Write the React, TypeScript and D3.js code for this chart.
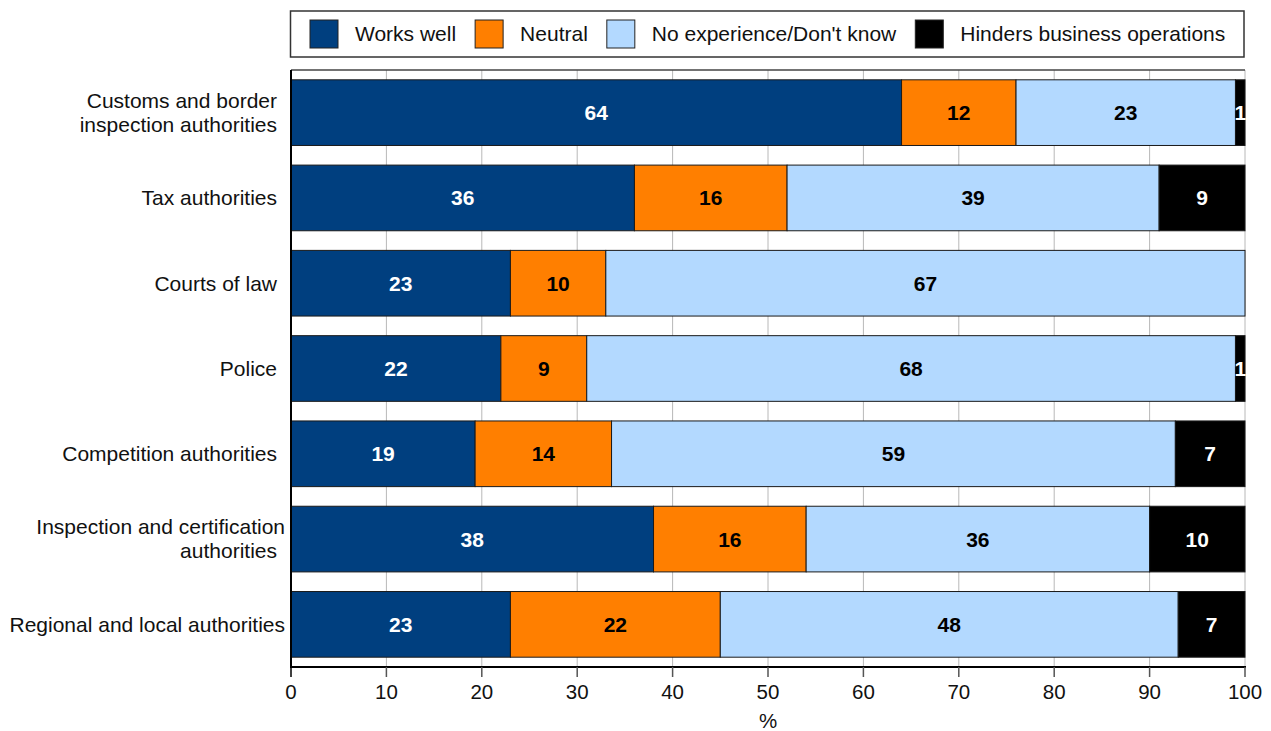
import React from "react";
import * as d3 from "d3";

// Survey shares (%) per authority, one array per response series
const categories: string[][] = [
  ["Customs and border", "inspection authorities"],
  ["Tax authorities"],
  ["Courts of law"],
  ["Police"],
  ["Competition authorities"],
  ["Inspection and certification", "authorities"],
  ["Regional and local authorities"],
];
const worksWell = [64, 36, 23, 22, 19.3, 38, 23];
const neutral = [12, 16, 10, 9, 14.3, 16, 22];
const noExperience = [23, 39, 67, 68, 59.1, 36, 48];
const hinders = [1, 9, 0, 1, 7.3, 10, 7];

const seriesNames = ["Works well", "Neutral", "No experience/Don't know", "Hinders business operations"];
const seriesColors = ["#003F7F", "#FF7F00", "#B3D9FF", "#000000"];
const labelColors = ["#FFFFFF", "#000000", "#000000", "#FFFFFF"];
const xTicks = [0, 10, 20, 30, 40, 50, 60, 70, 80, 90, 100];

const W = 1271;
const H = 731;
const FONT = "'Liberation Sans', Arial, Helvetica, sans-serif";

function measure(text: string, size: number, weight = "normal"): number {
  const c = document.createElement("canvas").getContext("2d");
  if (!c) return text.length * size * 0.5;
  c.font = `${weight} ${size}px ${FONT}`;
  return c.measureText(text).width;
}

export default function App() {
  const margin = { left: 291, right: W - 1245, top: 70, bottom: H - 667 };
  const x = d3.scaleLinear().domain([0, 100]).range([margin.left, W - margin.right]);
  const keys = categories.map((c) => c.join(" "));
  const y = d3
    .scaleBand<string>()
    .domain(keys)
    .range([margin.top, H - margin.bottom])
    .paddingInner(0.23)
    .paddingOuter(0.115);

  const rows = keys.map((k, i) => ({
    key: k,
    values: [worksWell[i], neutral[i], noExperience[i], hinders[i]],
  }));
  const stack = d3.stack<any, number>().keys([0, 1, 2, 3]).value((d, k) => d.values[k]);
  const layers = stack(rows);
  const fmt = d3.format(".0f");

  // legend layout: swatch, gap, text, gap
  const legendItems: { name: string; sx: number; tx: number }[] = [];
  let cursor = 310;
  seriesNames.forEach((name) => {
    legendItems.push({ name, sx: cursor, tx: cursor + 45 });
    cursor = cursor + 45 + measure(name, 21) + 19;
  });

  const [x0, x1] = x.range();
  const [y0, y1] = y.range();

  return (
    <svg
      width={W}
      height={H}
      style={{ position: "absolute", left: 0, top: 0, background: "#fff" }}
      fontFamily={FONT}
    >
      {/* legend */}
      <rect x={290.5} y={11} width={953.5} height={46} fill="#fff" stroke="#333" strokeWidth={1.5} />
      {legendItems.map((it, i) => (
        <g key={it.name}>
          <rect x={it.sx} y={20} width={28} height={28} fill={seriesColors[i]} stroke="#222" strokeWidth={1} />
          <text x={it.tx} y={34} dy="0.35em" fontSize={21} fill="#111">
            {it.name}
          </text>
        </g>
      ))}

      {/* grid */}
      {xTicks.map((t) => (
        <line key={"g" + t} x1={x(t)} x2={x(t)} y1={y0} y2={y1} stroke="#b8b8b8" strokeWidth={1} />
      ))}
      <line x1={x0} x2={x1} y1={y0} y2={y0} stroke="#444" strokeWidth={1.5} />

      {/* bars */}
      {layers.map((layer, si) => (
        <g key={"s" + si}>
          {layer.map((d, ri) => {
            const v = rows[ri].values[si];
            if (!v) return null;
            const bx = x(d[0]);
            const bw = x(d[1]) - x(d[0]);
            const by = y(rows[ri].key)!;
            const bh = y.bandwidth();
            return (
              <g key={ri}>
                <rect x={bx} y={by} width={bw} height={bh} fill={seriesColors[si]} stroke="#1a1a1a" strokeWidth={1} />
                <text
                  x={bx + bw / 2}
                  y={by + bh / 2}
                  dy="0.36em"
                  textAnchor="middle"
                  fontSize={21}
                  fontWeight="bold"
                  fill={labelColors[si]}
                >
                  {fmt(v)}
                </text>
              </g>
            );
          })}
        </g>
      ))}

      {/* category labels; very long lines run a little closer to the axis */}
      {categories.map((lines, i) => {
        const cy = y(keys[i])! + y.bandwidth() / 2;
        const lh = 24;
        const widest = Math.max(...lines.map((ln) => measure(ln, 21)));
        const ax = widest > 240 ? 285 : 277;
        return (
          <text key={"c" + i} textAnchor="end" fontSize={21} fill="#111">
            {lines.map((ln, j) => (
              <tspan
                key={j}
                x={lines.length > 1 && measure(ln, 21) < 240 ? 277 : ax}
                y={cy + (j - (lines.length - 1) / 2) * lh}
                dy="0.35em"
              >
                {ln}
              </tspan>
            ))}
          </text>
        );
      })}

      {/* axes */}
      <line x1={x0} x2={x0} y1={y0} y2={y1} stroke="#000" strokeWidth={2} />
      <line x1={x0 - 1} x2={x1 + 1} y1={y1} y2={y1} stroke="#000" strokeWidth={2} />
      {xTicks.map((t) => (
        <g key={"t" + t}>
          <line x1={x(t)} x2={x(t)} y1={y1} y2={y1 + 10} stroke={t === 0 ? "#000" : "#555"} strokeWidth={1.5} />
          <text x={x(t)} y={692} dy="0.35em" textAnchor="middle" fontSize={20.5} fill="#111">
            {t}
          </text>
        </g>
      ))}
      <text x={(x0 + x1) / 2} y={721} dy="0.35em" textAnchor="middle" fontSize={20.5} fill="#111">
        %
      </text>
    </svg>
  );
}
